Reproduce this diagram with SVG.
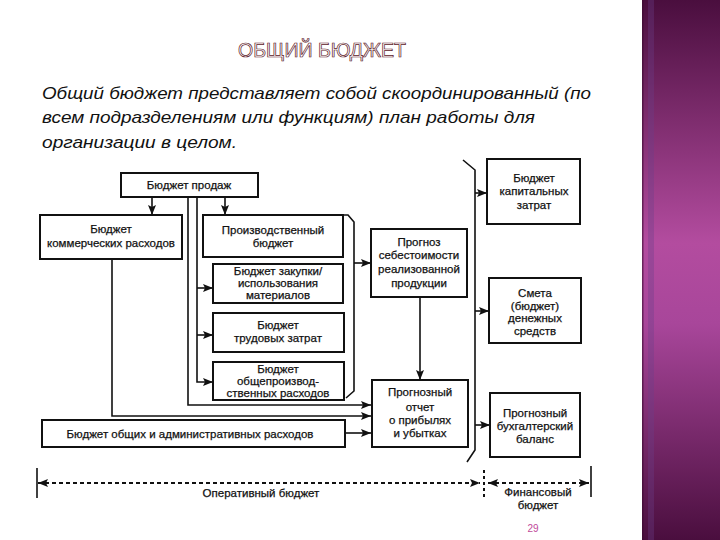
<svg xmlns="http://www.w3.org/2000/svg" width="720" height="540" viewBox="0 0 720 540">
<defs>
<linearGradient id="band" x1="0" y1="0" x2="0" y2="1">
<stop offset="0" stop-color="#4a0e3e"/>
<stop offset="0.45" stop-color="#b34c9f"/>
<stop offset="0.6" stop-color="#a8469a"/>
<stop offset="1" stop-color="#4a0e3e"/>
</linearGradient>
<marker id="ah" viewBox="0 0 10 8" refX="10" refY="4" markerWidth="11" markerHeight="8" markerUnits="userSpaceOnUse" orient="auto">
<path d="M0,0 L10,4 L0,8 L2,4 Z" fill="#111"/>
</marker>
<marker id="ahs" viewBox="0 0 10 8" refX="0" refY="4" markerWidth="11" markerHeight="8" markerUnits="userSpaceOnUse" orient="auto">
<path d="M10,0 L0,4 L10,8 L8,4 Z" fill="#111"/>
</marker>
<style>
.box{fill:#fff;stroke:#111;stroke-width:2}
.ln{fill:none;stroke:#111;stroke-width:1.6}
.t{font-family:"Liberation Sans",Arial,sans-serif;font-size:11.5px;fill:#111;stroke:#111;stroke-width:0.25;text-anchor:middle}
.para{font-family:"Liberation Sans",Arial,sans-serif;font-style:italic;font-size:17px;fill:#111}
.dash{fill:none;stroke:#111;stroke-width:1.8;stroke-dasharray:4 3}
</style>
</defs>
<rect x="0" y="0" width="720" height="540" fill="#fff"/>
<rect x="642" y="0" width="78" height="540" fill="url(#band)"/>
<rect x="648" y="0" width="6" height="540" fill="#6a3f8a" opacity="0.35"/>
<rect x="642" y="0" width="1.5" height="540" fill="#3a0a30" opacity="0.6"/>

<text x="322" y="57" text-anchor="middle" font-family="Liberation Sans, Arial, sans-serif" font-size="20" fill="#fff" stroke="#5a1424" stroke-width="0.7" textLength="168" lengthAdjust="spacingAndGlyphs">ОБЩИЙ БЮДЖЕТ</text>

<text class="para" x="42" y="99" textLength="549" lengthAdjust="spacingAndGlyphs">Общий бюджет представляет собой скоординированный (по</text>
<text class="para" x="42" y="123" textLength="493" lengthAdjust="spacingAndGlyphs">всем подразделениям или функциям) план работы для</text>
<text class="para" x="42" y="148" textLength="195" lengthAdjust="spacingAndGlyphs">организации в целом.</text>

<g id="connectors">
<line class="ln" x1="152" y1="197" x2="152" y2="215" marker-end="url(#ah)"/>
<line class="ln" x1="225" y1="197" x2="225" y2="215" marker-end="url(#ah)"/>
<polyline class="ln" points="188,197 188,405 371,405" marker-end="url(#ah)"/>
<polyline class="ln" points="197,197 197,382 213,382" marker-end="url(#ah)"/>
<line class="ln" x1="197" y1="288" x2="213" y2="288" marker-end="url(#ah)"/>
<line class="ln" x1="197" y1="335" x2="213" y2="335" marker-end="url(#ah)"/>
<polyline class="ln" points="112,259 112,416 371,416" marker-end="url(#ah)"/>
<line class="ln" x1="345" y1="433" x2="371" y2="433" marker-end="url(#ah)"/>
<line class="ln" x1="354" y1="263" x2="371" y2="263" marker-end="url(#ah)"/>
<line class="ln" x1="420" y1="297" x2="420" y2="380" marker-end="url(#ah)"/>
<polyline class="ln" points="463,160 475,170 475,450 467,462"/>
<line class="ln" x1="475" y1="193" x2="487" y2="193" marker-end="url(#ah)"/>
<line class="ln" x1="475" y1="311" x2="489" y2="311" marker-end="url(#ah)"/>
<line class="ln" x1="475" y1="425" x2="490" y2="425" marker-end="url(#ah)"/>
</g>

<g id="sales"><rect class="box" x="121" y="173" width="137" height="24"/><text class="t" x="189" y="189">Бюджет продаж</text></g>
<g id="commercial"><rect class="box" x="40" y="215" width="142" height="44"/><text class="t" x="111" y="233">Бюджет</text><text class="t" x="111" y="247">коммерческих расходов</text></g>

<g id="production-frame"><polyline class="ln" points="343,215 348,215 354,222 354,391 346,398" /></g>
<g id="production"><rect class="box" x="203" y="215" width="140" height="42"/><text class="t" x="273" y="234">Производственный</text><text class="t" x="273" y="247">бюджет</text></g>
<g id="purchases"><rect class="box" x="213" y="264" width="130" height="39"/><text class="t" x="278" y="275">Бюджет закупки/</text><text class="t" x="278" y="287">использования</text><text class="t" x="278" y="299">материалов</text></g>
<g id="labor"><rect class="box" x="213" y="313" width="131" height="39"/><text class="t" x="278" y="329">Бюджет</text><text class="t" x="278" y="342">трудовых затрат</text></g>
<g id="overhead"><rect class="box" x="213" y="362" width="131" height="38"/><text class="t" x="278" y="373">Бюджет</text><text class="t" x="278" y="385">общепроизвод-</text><text class="t" x="278" y="397">ственных расходов</text></g>
<g id="admin"><rect class="box" x="42" y="420" width="303" height="27"/><text class="t" x="190" y="438">Бюджет общих и административных расходов</text></g>

<g id="cogs"><rect class="box" x="371" y="229" width="96" height="68"/><text class="t" x="419" y="246">Прогноз</text><text class="t" x="419" y="259">себестоимости</text><text class="t" x="419" y="273">реализованной</text><text class="t" x="419" y="287">продукции</text></g>
<g id="income"><rect class="box" x="372" y="380" width="96" height="67"/><text class="t" x="420" y="396">Прогнозный</text><text class="t" x="420" y="411">отчет</text><text class="t" x="420" y="424">о прибылях</text><text class="t" x="420" y="437">и убытках</text></g>

<g id="capex"><rect class="box" x="487" y="159" width="93" height="65"/><text class="t" x="534" y="182">Бюджет</text><text class="t" x="534" y="195">капитальных</text><text class="t" x="534" y="209">затрат</text></g>
<g id="cash"><rect class="box" x="489" y="278" width="92" height="65"/><text class="t" x="535" y="297">Смета</text><text class="t" x="535" y="310">(бюджет)</text><text class="t" x="535" y="322">денежных</text><text class="t" x="535" y="335">средств</text></g>
<g id="balance"><rect class="box" x="490" y="393" width="90" height="64"/><text class="t" x="535" y="417">Прогнозный</text><text class="t" x="535" y="430">бухгалтерский</text><text class="t" x="535" y="443">баланс</text></g>

<g id="scale">
<line class="ln" x1="37" y1="468" x2="37" y2="498" stroke-width="2"/>
<line class="dash" x1="38" y1="483" x2="480" y2="483" marker-start="url(#ahs)" marker-end="url(#ah)"/>
<line x1="484" y1="470" x2="484" y2="500" stroke="#111" stroke-width="2" stroke-dasharray="3 3"/>
<line class="dash" x1="488" y1="483" x2="589" y2="483" marker-start="url(#ahs)" marker-end="url(#ah)"/>
<line class="ln" x1="591" y1="466" x2="591" y2="497" stroke-width="2"/>
<text class="t" x="261" y="497">Оперативный бюджет</text>
<text class="t" x="538" y="496">Финансовый</text>
<text class="t" x="538" y="509">бюджет</text>
</g>
<text x="533" y="532" text-anchor="middle" font-family="Liberation Sans, Arial, sans-serif" font-size="10" fill="#c04a9a">29</text>
</svg>
